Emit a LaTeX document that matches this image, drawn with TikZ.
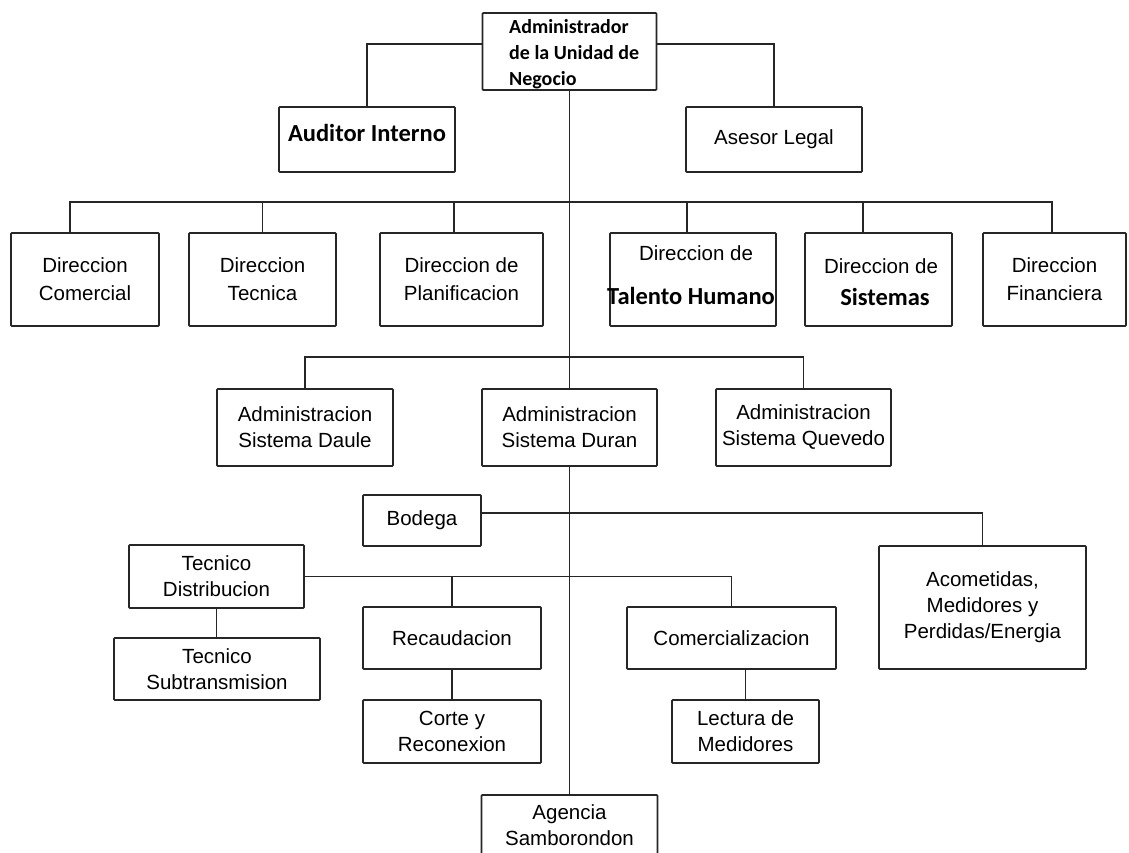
\documentclass[tikz,border=0pt]{standalone}
\usepackage{fontspec}
\setmainfont{Liberation Sans}
\newfontfamily\calibri{Carlito}
\usetikzlibrary{calc}
\newcommand{\arf}{\fontsize{20.5}{26}\selectfont}
\newcommand{\ardf}{\fontsize{20.5}{28}\selectfont}
\newcommand{\calb}{\calibri\bfseries\fontsize{24.5}{28}\selectfont}
\begin{document}
\begin{tikzpicture}[x=1pt,y=-1pt,
  box/.style={draw=black!85, line width=1.7pt, rounded corners=0.8pt, inner sep=0pt, align=center, font=\arf},
  dirbox/.style={box, font=\ardf, minimum height=93pt},
  lbl/.style={inner sep=0pt, align=center, font=\arf},
  blbl/.style={inner sep=0pt, align=center, font=\calb},
  conn/.style={draw=black!85, line width=1.8pt}]
\useasboundingbox (0,0) rectangle (1129,853);
\clip (0,0) rectangle (1129,853);
% top level
\node[box, minimum width=174pt, minimum height=77pt] (adm) at (569.5,51.5) {};
\node[inner sep=0pt, anchor=west, align=left, font=\calibri\bfseries\fontsize{20}{26}\selectfont] (admt) at (509,54) {Administrador\\de la Unidad de\\Negocio};
\node[box, minimum width=176pt, minimum height=65pt] (aud) at (367,139.5) {};
\node[blbl] (audt) at (367,133) {Auditor Interno};
\node[box, minimum width=176pt, minimum height=65pt] (ase) at (774,139.5) {Asesor Legal};
% direcciones
\node[dirbox, minimum width=148pt] (dc) at (85,279.5) {Direccion\\Comercial};
\node[dirbox, minimum width=147pt] (dt) at (262.5,279.5) {Direccion\\Tecnica};
\node[dirbox, minimum width=163pt] (dp) at (461.5,279.5) {Direccion de\\Planificacion};
\node[dirbox, minimum width=166pt] (dth) at (693,279.5) {};
\node[lbl] (dtht1) at (696,253) {Direccion de};
\node[blbl] (dtht2) at (691,296) {Talento Humano};
\node[dirbox, minimum width=147pt] (ds) at (878.5,279.5) {};
\node[lbl] (dst1) at (881,266) {Direccion de};
\node[blbl] (dst2) at (885,297) {Sistemas};
\node[dirbox, minimum width=143pt] (df) at (1054.5,279.5) {Direccion\\Financiera};
% administraciones
\node[box, minimum width=176pt, minimum height=77pt] (dau) at (305,427.5) {Administracion\\Sistema Daule};
\node[box, minimum width=175pt, minimum height=77pt] (dur) at (569.5,427.5) {Administracion\\Sistema Duran};
\node[box, minimum width=175pt, minimum height=77pt] (que) at (803.5,427.5) {Administracion\\Sistema Quevedo};
% lower units
\node[box, minimum width=118pt, minimum height=51pt] (bod) at (422,520.5) {Bodega};
\node[box, minimum width=207pt, minimum height=123pt] (aco) at (982.5,607.5) {Acometidas,\\Medidores y\\Perdidas/Energia};
\node[box, minimum width=175pt, minimum height=63pt] (td) at (216.5,576.5) {Tecnico\\Distribucion};
\node[box, minimum width=178pt, minimum height=62pt] (rec) at (452,638) {Recaudacion};
\node[box, minimum width=209pt, minimum height=62pt] (com) at (731.5,638) {Comercializacion};
\node[box, minimum width=206pt, minimum height=62pt] (ts) at (217,669) {Tecnico\\Subtransmision};
\node[box, minimum width=178pt, minimum height=63pt] (cor) at (452,731.5) {Corte y\\Reconexion};
\node[box, minimum width=147pt, minimum height=63pt] (lec) at (745.5,731.5) {Lectura de\\Medidores};
\node[box, minimum width=176pt, minimum height=61pt] (age) at (569.5,825.5) {Agencia\\Samborondon};
% connectors
\draw[conn] (adm.south) -- (dur.north);
\draw[conn] (dur.south) -- (age.north);
\coordinate (tl) at ($(adm.north west)!0.4!(adm.south west)$);
\coordinate (tr) at ($(adm.north east)!0.4!(adm.south east)$);
\draw[conn] (tl) -| (aud.north);
\draw[conn] (tr) -| (ase.north);
\coordinate (bus1) at (569.5,202);
\coordinate (dcn) at ([xshift=-15pt]dc.north);
\coordinate (dpn) at ([xshift=-7.5pt]dp.north);
\coordinate (dthn) at ([xshift=-6pt]dth.north);
\coordinate (dsn) at ([xshift=-15.5pt]ds.north);
\coordinate (dfn) at ([xshift=-2.5pt]df.north);
\draw[conn] (dcn) |- (bus1) -| (dfn);
\draw[conn] (dt.north) -- (dt.north |- bus1);
\draw[conn] (dpn) -- (dpn |- bus1);
\draw[conn] (dthn) -- (dthn |- bus1);
\draw[conn] (dsn) -- (dsn |- bus1);
\coordinate (bus2) at (569.5,357);
\draw[conn] (dau.north) |- (bus2) -| (que.north);
\coordinate (bode) at ([yshift=7.5pt]bod.east);
\draw[conn] (bode) -| (aco.north);
\draw[conn] (td.east) -| (com.north);
\draw[conn] (rec.north) -- (rec.north |- td.east);
\draw[conn] (td.south) -- (td.south |- ts.north);
\draw[conn] (rec.south) -- (cor.north);
\draw[conn] (lec.north) -- (lec.north |- com.south);
\end{tikzpicture}
\end{document}
